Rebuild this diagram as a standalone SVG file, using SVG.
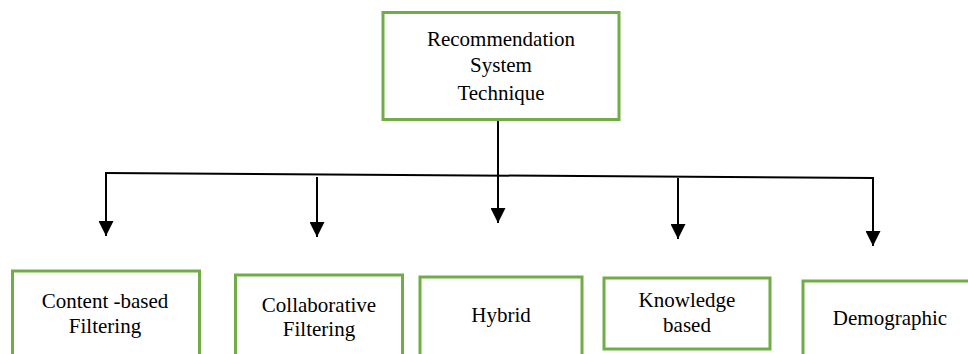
<svg xmlns="http://www.w3.org/2000/svg" width="968" height="354" viewBox="0 0 968 354">
  <style>
    .box { fill: #ffffff; stroke: #70ad47; stroke-width: 3; }
    .lbl { font-family: "Liberation Serif", "Times New Roman", serif; font-size: 21px; fill: #000000; text-anchor: middle; }
    .wire { stroke: #000000; stroke-width: 2; fill: none; }
  </style>
  <defs>
    <marker id="arrow" markerUnits="userSpaceOnUse" viewBox="0 0 15 15" refX="15" refY="7.5" markerWidth="15" markerHeight="15" orient="auto">
      <path d="M0,0 L15,7.5 L0,15 z" fill="#000000"/>
    </marker>
  </defs>
  <rect width="968" height="354" fill="#ffffff"/>

  <g id="connectors">
    <line class="wire" x1="105" y1="173" x2="874" y2="178"/>
    <line class="wire" x1="106" y1="173" x2="106" y2="236" marker-end="url(#arrow)"/>
    <line class="wire" x1="317" y1="177" x2="317" y2="237" marker-end="url(#arrow)"/>
    <line class="wire" x1="498" y1="120" x2="498" y2="223" marker-end="url(#arrow)"/>
    <line class="wire" x1="678" y1="178" x2="678" y2="239" marker-end="url(#arrow)"/>
    <line class="wire" x1="873" y1="178" x2="873" y2="246" marker-end="url(#arrow)"/>
  </g>

  <g id="root">
    <rect class="box" x="383" y="12.5" width="236" height="107"/>
    <text class="lbl" x="501" y="46">Recommendation</text>
    <text class="lbl" x="501" y="72">System</text>
    <text class="lbl" x="501" y="100">Technique</text>
  </g>

  <g id="content-based">
    <rect class="box" x="12.5" y="271" width="187" height="100"/>
    <text class="lbl" x="105" y="308">Content -based</text>
    <text class="lbl" x="105" y="333">Filtering</text>
  </g>

  <g id="collaborative">
    <rect class="box" x="235.5" y="275" width="167" height="100"/>
    <text class="lbl" x="319" y="312">Collaborative</text>
    <text class="lbl" x="319" y="336">Filtering</text>
  </g>

  <g id="hybrid">
    <rect class="box" x="420" y="277" width="162" height="100"/>
    <text class="lbl" x="501" y="322">Hybrid</text>
  </g>

  <g id="knowledge">
    <rect class="box" x="604" y="278" width="166" height="71"/>
    <text class="lbl" x="687" y="307">Knowledge</text>
    <text class="lbl" x="687" y="332">based</text>
  </g>

  <g id="demographic">
    <rect class="box" x="803" y="281" width="200" height="100"/>
    <text class="lbl" x="890" y="325">Demographic</text>
  </g>
</svg>
